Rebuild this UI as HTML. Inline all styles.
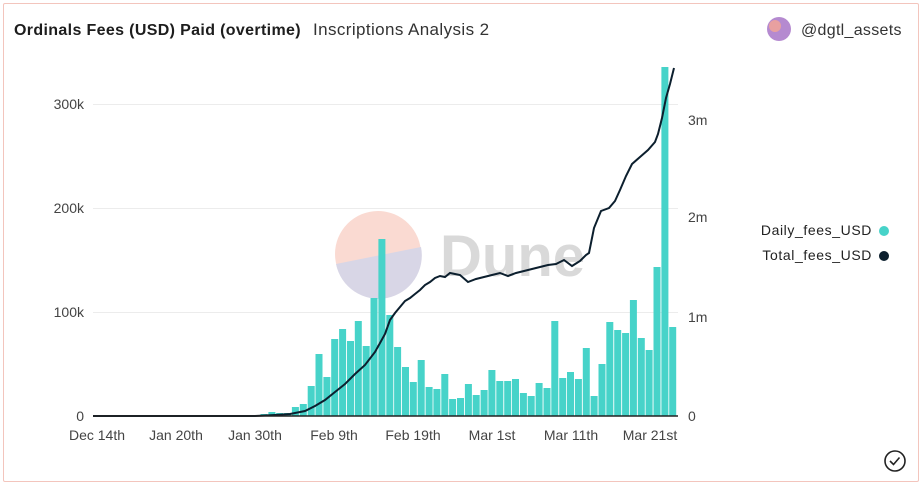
<!DOCTYPE html>
<html><head><meta charset="utf-8"><style>
body{margin:0;width:922px;height:485px;background:#fff;font-family:"Liberation Sans",sans-serif;overflow:hidden}
.f{position:absolute;left:3px;top:3px;width:914px;height:477px;border:1px solid #f3c5bd;border-radius:2px}
</style></head><body><div class="f"></div>
<svg width="922" height="485" style="position:absolute;left:0;top:0" font-family="Liberation Sans, sans-serif">
<text x="14" y="35" font-size="16" font-weight="bold" fill="#1d1d1d" letter-spacing="0.35">Ordinals Fees (USD) Paid (overtime)</text>
<text x="313" y="35" font-size="17" fill="#333" letter-spacing="0.4">Inscriptions Analysis 2</text>
<circle cx="779" cy="29" r="12" fill="#b58ad0"/><circle cx="775" cy="26" r="6" fill="#e8a0a0"/>
<text x="801" y="35" font-size="16" fill="#333" letter-spacing="0.3">@dgtl_assets</text>
<g stroke="#ececec" stroke-width="1"><line x1="93" y1="104.5" x2="678" y2="104.5"/><line x1="93" y1="208.5" x2="678" y2="208.5"/><line x1="93" y1="312.5" x2="678" y2="312.5"/></g>
<g font-size="14" fill="#444" text-anchor="end"><text x="84" y="109">300k</text><text x="84" y="213">200k</text><text x="84" y="317">100k</text><text x="84" y="421">0</text></g>
<g font-size="14" fill="#444"><text x="688" y="125">3m</text><text x="688" y="222">2m</text><text x="688" y="322">1m</text><text x="688" y="421">0</text></g>
<g font-size="14" fill="#444" text-anchor="middle"><text x="97" y="440">Dec 14th</text><text x="176" y="440">Jan 20th</text><text x="255" y="440">Jan 30th</text><text x="334" y="440">Feb 9th</text><text x="413" y="440">Feb 19th</text><text x="492" y="440">Mar 1st</text><text x="571" y="440">Mar 11th</text><text x="650" y="440">Mar 21st</text></g>
<circle cx="378" cy="254" r="43" fill="#fadad2"/>
<path d="M336,264 A43,43 0 0 0 421,247 Z" fill="#d8d6e6"/>
<text x="440" y="276" font-size="58" font-weight="bold" fill="#d9d9d9">Dune</text>
<g fill="#47d3c9" id="b"></g>
<polyline fill="none" stroke="#0c1f2e" stroke-width="2" points="93,416 255,416 275,415 290,414 305,411 315,406 325,400 335,392 345,384 355,374 365,365 375,352 385,334 390,320 395,313 400,307 405,301 410,298 415,294 420,290 425,285 430,282 435,278 440,276 445,277 450,273 455,274 460,275 468,282 476,279 484,277 492,275 500,273 508,276 516,273 524,271 532,269 540,267 548,265 556,264 564,260 572,266 580,261 586,255 589,253 594,228 601,211 609,208 615,201 620,190 626,176 632,164 640,157 648,150 655,142 658,134 662,118 666,98 670,84 674,68"/>
<line x1="93" y1="416" x2="678" y2="416" stroke="#222" stroke-width="1.5"/>
<text x="872" y="235" font-size="14" fill="#222" text-anchor="end" letter-spacing="0.6">Daily_fees_USD</text><circle cx="884" cy="231" r="5" fill="#47d3c9"/>
<text x="872" y="260" font-size="14" fill="#222" text-anchor="end" letter-spacing="0.6">Total_fees_USD</text><circle cx="884" cy="256" r="5" fill="#0c1f2e"/>
<circle cx="895" cy="461" r="10" fill="none" stroke="#222" stroke-width="1.6"/><path d="M890,461 l3.5,3.5 l6,-7" fill="none" stroke="#222" stroke-width="1.6"/>
</svg>
<script>
var t=[414,412,413,413,407,404,386,354,377,339,329,341,321,346,298,239,315,347,367,382,360,387,389,374,399,398,384,395,390,370,381,381,379,393,396,383,388,321,378,372,379,348,396,364,322,330,333,300,338,350,267,67,327];
var g=document.getElementById('b'),s='';
for(var i=0;i<t.length;i++){var x=260.5+i*7.86;s+='<rect x="'+x.toFixed(1)+'" y="'+t[i]+'" width="7" height="'+(416-t[i])+'"/>';}
g.innerHTML=s;
</script>
</body></html>
